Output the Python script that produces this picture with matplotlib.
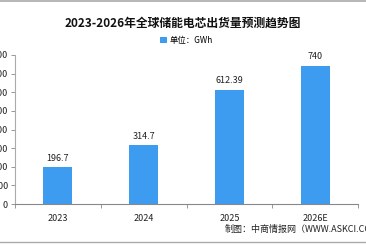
import numpy as np
import matplotlib.pyplot as plt
from matplotlib.lines import Line2D

plt.rcParams['font.family'] = ['Noto Sans CJK SC', 'DejaVu Sans']

years = ['2023', '2024', '2025', '2026E']
values = [196.7, 314.7, 612.39, 740]
labels = ['196.7', '314.7', '612.39', '740']
yticks = [0, 100, 200, 300, 400, 500, 600, 700, 800]

fig = plt.figure(figsize=(3.66, 2.48), dpi=100)
ax = fig.add_axes([15 / 366, 44 / 248, 343 / 366, 149 / 248])

x = np.arange(len(years))
ax.bar(x, values, width=0.34, color='#3d9cf0', label='单位：GWh', zorder=2)
for xi, v, t in zip(x, values, labels):
    ax.text(xi, v + 26, t, ha='center', va='bottom', fontsize=6.5, color='#222222')

ax.set_xlim(-0.5, len(years) - 0.5)
ax.set_ylim(0, 800)
ax.set_yticks(yticks)
ax.set_yticklabels([str(t) for t in yticks], fontsize=6.5, color='#222222')
ax.set_xticks(x)
ax.set_xticklabels(years, fontsize=6.5, color='#222222')
ax.tick_params(axis='x', length=0, pad=7)
ax.set_xticks(np.arange(len(years) + 1) - 0.5, minor=True)
ax.tick_params(axis='x', which='minor', length=3, color='#888888', width=0.6)
ax.tick_params(axis='y', length=3, color='#888888', width=0.6, pad=2)

for s in ['top', 'right']:
    ax.spines[s].set_visible(False)
ax.spines['left'].set_color('#aaaaaa')
ax.spines['bottom'].set_color('#888888')
ax.spines['left'].set_linewidth(0.8)
ax.spines['bottom'].set_linewidth(0.8)

fig.text(0.5, 1 - 23 / 248, '2023-2026年全球储能电芯出货量预测趋势图', ha='center', va='center',
         fontsize=8.5, fontweight='bold', color='#111111')
ax.legend(loc='upper center', bbox_to_anchor=(0.5, 1.18), frameon=False, fontsize=6,
          handlelength=0.8, handleheight=0.8, handletextpad=0.4)

fig.text(225 / 366, 1 - 229 / 248, '制图：中商情报网（WWW.ASKCI.COM）', ha='left', va='center',
         fontsize=6.5, color='#222222')

fig.add_artist(Line2D([0, 1], [1 - 1 / 248, 1 - 1 / 248], color='#aaaaaa', linewidth=1.2))
fig.add_artist(Line2D([0, 1], [1 - 242 / 248, 1 - 242 / 248], color='#aaaaaa', linewidth=1.0))

plt.savefig('out.png', dpi=100)
